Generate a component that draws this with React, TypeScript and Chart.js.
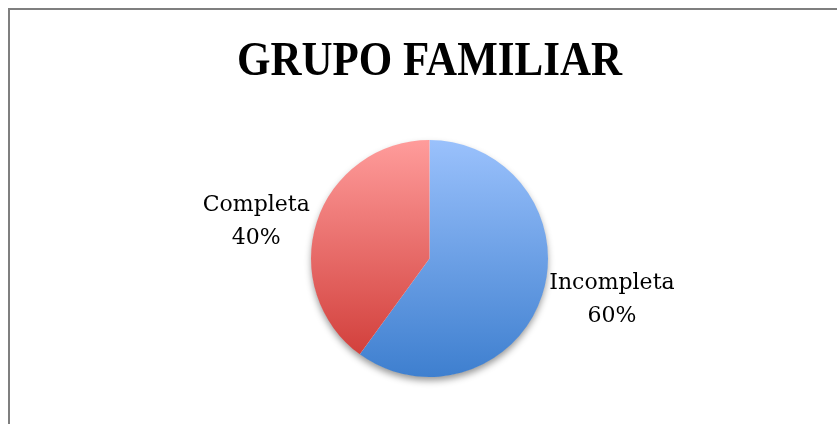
import React, { useEffect, useRef } from "react";
import { Chart, registerables } from "chart.js";

Chart.register(...registerables);

const TITLE = "GRUPO FAMILIAR";
const categories = ["Incompleta", "Completa"];
const values = [60, 40];
const percentLabels = ["60%", "40%"];
const topColors = ["#9AC1FC", "#FF9C9B"];
const bottomColors = ["#3E7FCF", "#D2403C"];

function arcYRange(index: number, cy: number, r: number) {
  const total = values.reduce((a, b) => a + b, 0);
  let before = 0;
  for (let i = 0; i < index; i++) before += values[i];
  const a0 = -Math.PI / 2 + (before / total) * Math.PI * 2;
  const a1 = a0 + (values[index] / total) * Math.PI * 2;
  const ys = [cy, cy + Math.sin(a0) * r, cy + Math.sin(a1) * r];
  const norm = (a: number) => ((a % (2 * Math.PI)) + 2 * Math.PI) % (2 * Math.PI);
  const contains = (t: number) => {
    const s = norm(a0);
    const span = a1 - a0;
    const d = norm(t - s);
    return d <= span;
  };
  if (contains(-Math.PI / 2)) ys.push(cy - r);
  if (contains(Math.PI / 2)) ys.push(cy + r);
  return [Math.min(...ys), Math.max(...ys)];
}

const shadowPlugin = {
  id: "pieShadow",
  beforeDatasetsDraw(chart: any) {
    const meta = chart.getDatasetMeta(0);
    const arc = meta.data[0];
    if (!arc) return;
    const { ctx } = chart;
    ctx.save();
    ctx.shadowColor = "rgba(0,0,0,0.42)";
    ctx.shadowBlur = 7;
    ctx.shadowOffsetX = 0;
    ctx.shadowOffsetY = 4;
    ctx.fillStyle = "#ffffff";
    ctx.beginPath();
    ctx.arc(arc.x, arc.y, arc.outerRadius - 0.5, 0, Math.PI * 2);
    ctx.fill();
    ctx.restore();
  },
};

const labelPlugin = {
  id: "pieLabels",
  afterDatasetsDraw(chart: any) {
    const { ctx } = chart;
    const meta = chart.getDatasetMeta(0);
    ctx.save();
    ctx.font = '22px "DejaVu Serif"';
    ctx.fillStyle = "#000000";
    ctx.textAlign = "center";
    ctx.textBaseline = "middle";
    meta.data.forEach((arc: any, i: number) => {
      const mid = (arc.startAngle + arc.endAngle) / 2;
      const r = arc.outerRadius;
      const ex = arc.x + Math.cos(mid) * r;
      const ey = arc.y + Math.sin(mid) * r;
      const lines = [categories[i], percentLabels[i]];
      const w = Math.max(...lines.map((l) => ctx.measureText(l).width));
      const gap = 7;
      const bx = Math.cos(mid) < 0 ? ex - gap - w / 2 : ex + gap + w / 2;
      const by = ey + Math.sin(mid) * 7 + 2.5;
      const lh = 33;
      ctx.fillText(lines[0], bx, by - lh / 2);
      ctx.fillText(lines[1], bx, by + lh / 2);
    });
    ctx.restore();
  },
};

const titlePlugin = {
  id: "customTitle",
  afterDraw(chart: any) {
    const { ctx, chartArea } = chart;
    const cx = (chartArea.left + chartArea.right) / 2;
    ctx.save();
    ctx.font = 'bold 48px "Liberation Serif"';
    ctx.fillStyle = "#000000";
    ctx.textAlign = "center";
    ctx.textBaseline = "alphabetic";
    ctx.fillText(TITLE, cx, 75, 385);
    ctx.restore();
  },
};

export default function App() {
  const canvasRef = useRef<HTMLCanvasElement | null>(null);

  useEffect(() => {
    const canvas = canvasRef.current;
    if (!canvas) return;
    const chart = new Chart(canvas, {
      type: "pie",
      data: {
        labels: categories,
        datasets: [
          {
            data: values,
            borderWidth: 0,
            backgroundColor: (c: any) => {
              const ch = c.chart;
              const area = ch.chartArea;
              const i = c.dataIndex ?? 0;
              if (!area) return topColors[i];
              const cy = (area.top + area.bottom) / 2;
              const r = Math.min(area.right - area.left, area.bottom - area.top) / 2;
              const [y0, y1] = arcYRange(i, cy, r);
              const g = ch.ctx.createLinearGradient(0, y0, 0, y1);
              g.addColorStop(0, topColors[i]);
              g.addColorStop(1, bottomColors[i]);
              return g;
            },
          },
        ],
      },
      options: {
        responsive: false,
        animation: false,
        layout: { padding: { top: 140, bottom: 47, left: 22, right: 0 } },
        plugins: {
          legend: { display: false },
          title: { display: false },
          tooltip: { enabled: false },
        },
      },
      plugins: [shadowPlugin, labelPlugin, titlePlugin],
    });
    return () => chart.destroy();
  }, []);

  return (
    <div
      style={{
        position: "absolute",
        left: 0,
        top: 0,
        width: 837,
        height: 424,
        overflow: "hidden",
        background: "#ffffff",
      }}
    >
      <div
        style={{
          position: "absolute",
          left: 8,
          top: 8,
          width: 860,
          height: 460,
          borderLeft: "2px solid #7f7f7f",
          borderTop: "2px solid #7f7f7f",
          boxSizing: "border-box",
        }}
      />
      <canvas
        ref={canvasRef}
        width={837}
        height={424}
        style={{ position: "absolute", left: 0, top: 0, width: 837, height: 424 }}
      />
    </div>
  );
}
